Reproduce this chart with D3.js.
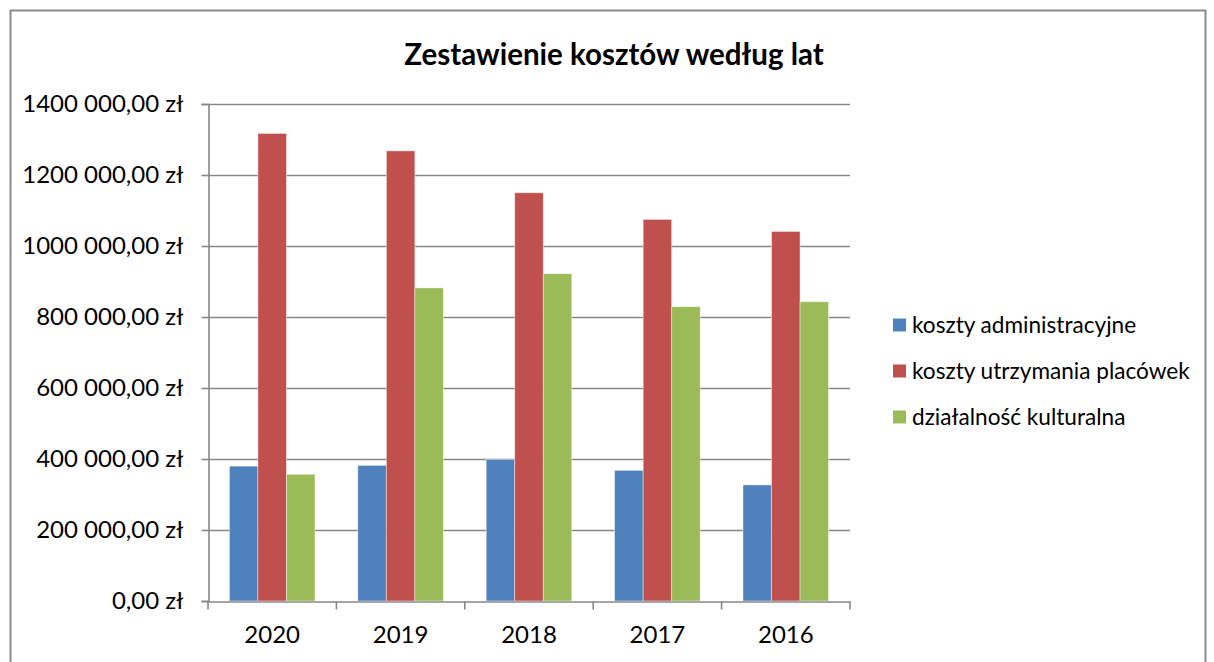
<!DOCTYPE html>
<html><head><meta charset="utf-8">
<script src="https://cdn.jsdelivr.net/npm/d3@7"></script>
<style>
html,body{margin:0;padding:0;background:#fff;}
svg{display:block;}
text{font-family:Lato,"Open Sans",sans-serif;fill:#000;}
</style></head>
<body>
<svg id="chart" width="1214" height="662"></svg>
<script>
const title = "Zestawienie kosztów według lat";
const categories = ["2020","2019","2018","2017","2016"];
const seriesNames = ["koszty administracyjne","koszty utrzymania placówek","działalność kulturalna"];
const seriesColors = ["#4F81BD","#C0504D","#9BBB59"];
const kosztyAdministracyjne = [380000, 382000, 399000, 368000, 327000];
const kosztyUtrzymaniaPlacowek = [1317000, 1268000, 1150000, 1075000, 1041000];
const dzialalnoscKulturalna = [357000, 882000, 922000, 829000, 843000];
const yTicks = [0,200000,400000,600000,800000,1000000,1200000,1400000];
const yTickLabels = ["0,00 zł","200 000,00 zł","400 000,00 zł","600 000,00 zł","800 000,00 zł","1000 000,00 zł","1200 000,00 zł","1400 000,00 zł"];

const seriesValues = [kosztyAdministracyjne, kosztyUtrzymaniaPlacowek, dzialalnoscKulturalna];
const svg = d3.select("#chart");
const L = 208, R = 850, T = 104, B = 601;
const gridColor = "#878787";

// outer border
svg.append("rect").attr("x",10.5).attr("y",10.5).attr("width",1195).attr("height",680)
  .attr("fill","none").attr("stroke","#8a8a8a").attr("stroke-width",2);

svg.append("text").attr("x",614).attr("y",65).attr("text-anchor","middle")
  .style("font-weight","bold").style("font-size","29.5px").text(title);

const y = d3.scaleLinear().domain([0,1400000]).range([B,T]);
const x = d3.scaleBand().domain(categories).range([L,R]).paddingInner(0).paddingOuter(0);
const xs = d3.scaleBand().domain(seriesNames).range([0,x.bandwidth()]).paddingInner(0).paddingOuter(0.75);

// gridlines
svg.append("g").selectAll("line").data(yTicks.filter(d=>d>0)).join("line")
  .attr("x1",L).attr("x2",R).attr("y1",d=>Math.round(y(d))+0.5).attr("y2",d=>Math.round(y(d))+0.5)
  .attr("stroke",gridColor).attr("stroke-width",1.6);

// bars
const groups = svg.append("g").selectAll("g").data(seriesNames).join("g")
  .attr("fill",(d,i)=>seriesColors[i]);
groups.selectAll("rect").data((s,i)=>categories.map((c,j)=>({s, c, v: seriesValues[i][j]}))).join("rect")
  .attr("x",d=>x(d.c)+xs(d.s)).attr("width",xs.bandwidth())
  .attr("y",d=>y(d.v)).attr("height",d=>B-y(d.v))
  .attr("stroke","rgba(255,255,255,0.55)").attr("stroke-width",0.8);

// y axis
const yAxis = d3.axisLeft(y).tickValues(yTicks).tickSize(7).tickPadding(18)
  .tickFormat((d,i)=>yTickLabels[i]);
const gy = svg.append("g").attr("transform",`translate(${L+0.5},0)`).call(yAxis);
gy.select(".domain").attr("stroke",gridColor).attr("stroke-width",1.6);
gy.selectAll(".tick line").attr("stroke",gridColor).attr("stroke-width",1.6);
gy.selectAll(".tick text").style("font-size","24px").style("font-family","Lato,'Open Sans',sans-serif").attr("fill","#000");

// x axis
const xAxis = d3.axisBottom(x).tickSize(0).tickPadding(24);
const gx = svg.append("g").attr("transform",`translate(0,${B+0.5})`).call(xAxis);
gx.select(".domain").attr("stroke",gridColor).attr("stroke-width",1.6);
gx.selectAll(".tick text").style("font-size","24px").style("font-family","Lato,'Open Sans',sans-serif").attr("fill","#000");
const bounds = categories.map(c=>x(c)).concat([R]);
gx.append("g").selectAll("line").data(bounds).join("line")
  .attr("x1",d=>d).attr("x2",d=>d).attr("y1",0).attr("y2",8)
  .attr("stroke",gridColor).attr("stroke-width",1.6);

// legend
const lg = svg.append("g").selectAll("g").data(seriesNames).join("g")
  .attr("transform",(d,i)=>`translate(893,${325+i*46})`);
lg.append("rect").attr("x",0).attr("y",-6.5).attr("width",13).attr("height",13)
  .attr("fill",(d,i)=>seriesColors[i]);
lg.append("text").attr("x",19).attr("y",0).attr("dy","0.35em")
  .style("font-size","22.6px").text(d=>d);
</script>
</body></html>
